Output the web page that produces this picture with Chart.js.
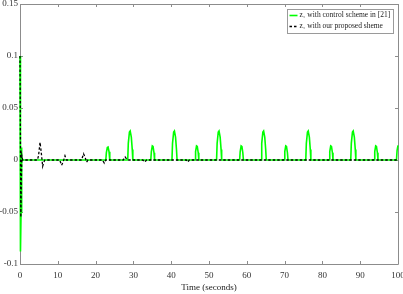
<!DOCTYPE html>
<html>
<head>
<meta charset="utf-8">
<script src="https://cdn.jsdelivr.net/npm/chart.js@4.4.1/dist/chart.umd.min.js"></script>
<style>
    html, body { margin: 0; padding: 0; background: #fff; }
    #wrap { width: 403px; height: 294px; }
</style>
</head>
<body>
<div id="wrap"><canvas id="z1-chart" width="403" height="294"></canvas></div>
<script>
// z1 with control scheme in [21] (green)
const green_t = [
    0, 0.05, 0.12, 0.2, 0.28, 0.38, 0.5, 0.6,
    22.7, 22.85, 23.1, 23.3, 23.55, 23.75,
    28.5, 28.65, 28.95, 29.15, 29.45, 29.7, 29.85,
    34.6, 34.75, 35.0, 35.2, 35.45, 35.6,
    40.2, 40.35, 40.65, 40.85, 41.15, 41.4, 41.55,
    46.3, 46.45, 46.7, 46.9, 47.15, 47.3,
    52.0, 52.15, 52.45, 52.65, 52.95, 53.2, 53.35,
    58.1, 58.25, 58.5, 58.7, 58.95, 59.1,
    63.8, 63.95, 64.25, 64.45, 64.75, 65.0, 65.15,
    69.9, 70.05, 70.3, 70.5, 70.75, 70.9,
    75.6, 75.75, 76.05, 76.25, 76.55, 76.8, 76.95,
    81.8, 81.95, 82.2, 82.4, 82.65, 82.8,
    87.5, 87.65, 87.95, 88.15, 88.45, 88.7, 88.85,
    93.7, 93.85, 94.1, 94.3, 94.55, 94.7,
    99.6, 99.75, 100
];
const green_z1 = [
    0.1, 0.06, -0.02, -0.088, -0.05, 0.012, 0.003, 0,
    0, 0.007, 0.012, 0.0125, 0.008, 0,
    0, 0.016, 0.027, 0.028, 0.022, 0.01, 0,
    0, 0.008, 0.0135, 0.013, 0.007, 0,
    0, 0.016, 0.027, 0.028, 0.022, 0.01, 0,
    0, 0.008, 0.0135, 0.013, 0.007, 0,
    0, 0.016, 0.027, 0.028, 0.022, 0.01, 0,
    0, 0.008, 0.0135, 0.013, 0.007, 0,
    0, 0.016, 0.027, 0.028, 0.022, 0.01, 0,
    0, 0.008, 0.0135, 0.013, 0.007, 0,
    0, 0.016, 0.027, 0.028, 0.022, 0.01, 0,
    0, 0.008, 0.0135, 0.013, 0.007, 0,
    0, 0.016, 0.027, 0.028, 0.022, 0.01, 0,
    0, 0.008, 0.0135, 0.013, 0.007, 0,
    0, 0.009, 0.014
];

// z1 with our proposed sheme (black dashed)
const black_t = [
    0, 0.06, 0.14, 0.22, 0.35, 0.5, 0.7,
    4.6, 4.9, 5.3, 5.6, 6.0, 6.3, 6.6,
    10.5, 11.0, 11.4, 11.9, 12.3,
    16.3, 16.8, 17.2, 17.6, 18.0,
    21.8, 22.3, 22.7,
    27.3, 27.8, 28.2, 28.6,
    32.5, 33.0, 33.5,
    44.0, 44.4, 44.8,
    100
];
const black_z1 = [
    0.1, 0.06, 0.0, -0.055, -0.02, 0.004, 0,
    0, 0.004, 0.017, 0.008, -0.006, -0.002, 0,
    0, -0.005, -0.002, 0.004, 0,
    0, 0.006, 0.003, -0.002, 0,
    0, -0.003, 0,
    0, 0.003, 0.001, 0,
    0, -0.002, 0,
    0, -0.002, 0,
    0
];

const x_ticks = [0, 10, 20, 30, 40, 50, 60, 70, 80, 90, 100];
const y_ticks = [-0.1, -0.05, 0, 0.05, 0.1, 0.15];
const y_tick_labels = ['-0.1', '-0.05', '0', '0.05', '0.1', '0.15'];

const series_labels = ['z\u2081 with control scheme in [21]', 'z\u2081 with our proposed sheme'];

const AXIS_COLOR = '#8c8c8c';
const FONT = "'Liberation Serif', 'DejaVu Serif', serif";

function to_points(ts, vs) {
    return ts.map((t, i) => ({ x: t, y: vs[i] }));
}

// box on, ticks pointing inward on every side, legend in the corner
const frame_plugin = {
    id: 'frame',
    beforeDatasetsDraw(chart) {
        const ctx = chart.ctx;
        const a = chart.chartArea;
        const xs = chart.scales.x;
        const ys = chart.scales.y;
        const len = 3;

        ctx.save();
        ctx.strokeStyle = AXIS_COLOR;
        ctx.lineWidth = 1;
        ctx.beginPath();
        ctx.rect(Math.round(a.left) + 0.5, Math.round(a.top) + 0.5,
                 Math.round(a.right - a.left), Math.round(a.bottom - a.top));
        ctx.stroke();

        ctx.beginPath();
        x_ticks.forEach((v) => {
            const px = Math.round(xs.getPixelForValue(v)) + 0.5;
            ctx.moveTo(px, a.bottom); ctx.lineTo(px, a.bottom - len);
            ctx.moveTo(px, a.top); ctx.lineTo(px, a.top + len);
        });
        y_ticks.forEach((v) => {
            const py = Math.round(ys.getPixelForValue(v)) + 0.5;
            ctx.moveTo(a.left, py); ctx.lineTo(a.left + len, py);
            ctx.moveTo(a.right, py); ctx.lineTo(a.right - len, py);
        });
        ctx.stroke();
        ctx.restore();
    },
    afterDraw(chart) {
        const ctx = chart.ctx;
        const a = chart.chartArea;

        ctx.save();
        ctx.font = '7.5px ' + FONT;
        const w = Math.max(...series_labels.map((s) => ctx.measureText(s).width));
        const bw = Math.round(w + 15);
        const bx = Math.round(a.right - 5 - bw) + 0.5;
        const by = Math.round(a.top + 5) + 0.5;
        const bh = 24;
        ctx.fillStyle = '#fff';
        ctx.fillRect(bx, by, bw, bh);
        ctx.strokeStyle = '#9a9a9a';
        ctx.lineWidth = 1;
        ctx.strokeRect(bx, by, bw, bh);

        const rows = [
            { color: '#00ff00', dash: [], width: 1.6 },
            { color: '#000', dash: [2.5, 2], width: 1.3 }
        ];
        rows.forEach((r, i) => {
            const cy = by + 6 + i * 11;
            ctx.beginPath();
            ctx.setLineDash(r.dash);
            ctx.strokeStyle = r.color;
            ctx.lineWidth = r.width;
            ctx.moveTo(bx + 2, cy);
            ctx.lineTo(bx + 10, cy);
            ctx.stroke();
            ctx.setLineDash([]);
            ctx.fillStyle = '#222';
            ctx.textBaseline = 'middle';
            ctx.textAlign = 'left';
            ctx.fillText(series_labels[i], bx + 12, cy);
        });
        ctx.restore();
    }
};

new Chart(document.getElementById('z1-chart'), {
    type: 'line',
    data: {
        datasets: [
            {
                label: series_labels[0],
                data: to_points(green_t, green_z1),
                borderColor: '#00ff00',
                borderWidth: 1.6,
                pointRadius: 0,
                tension: 0,
                clip: 3,
                order: 1
            },
            {
                label: series_labels[1],
                data: to_points(black_t, black_z1),
                borderColor: '#000',
                borderWidth: 1.3,
                borderDash: [2.5, 2],
                pointRadius: 0,
                tension: 0,
                clip: 3,
                order: 0
            }
        ]
    },
    options: {
        responsive: false,
        animation: false,
        layout: { padding: { top: 4, right: 5, left: 0, bottom: 0 } },
        plugins: {
            legend: { display: false },
            tooltip: { enabled: false }
        },
        scales: {
            x: {
                type: 'linear',
                min: 0,
                max: 100,
                afterBuildTicks: (scale) => { scale.ticks = x_ticks.map((v) => ({ value: v })); },
                afterFit: (scale) => {
                    scale.height = 30;
                    scale.paddingLeft = 0;
                    scale.paddingRight = 0;
                },
                grid: { display: false, drawTicks: false },
                border: { display: false },
                ticks: {
                    color: '#333',
                    padding: 6,
                    maxRotation: 0,
                    font: { family: FONT, size: 9 }
                },
                title: {
                    display: true,
                    text: 'Time (seconds)',
                    color: '#222',
                    padding: { top: 0, bottom: 1 },
                    font: { family: FONT, size: 9 }
                }
            },
            y: {
                type: 'linear',
                min: -0.1,
                max: 0.15,
                afterBuildTicks: (scale) => { scale.ticks = y_ticks.map((v) => ({ value: v })); },
                afterFit: (scale) => {
                    scale.width = 20;
                    scale.paddingTop = 0;
                    scale.paddingBottom = 0;
                },
                grid: { display: false, drawTicks: false },
                border: { display: false },
                ticks: {
                    color: '#333',
                    padding: 2,
                    font: { family: FONT, size: 9 },
                    callback: (value, index) => y_tick_labels[index]
                }
            }
        }
    },
    plugins: [frame_plugin]
});
</script>
</body>
</html>
